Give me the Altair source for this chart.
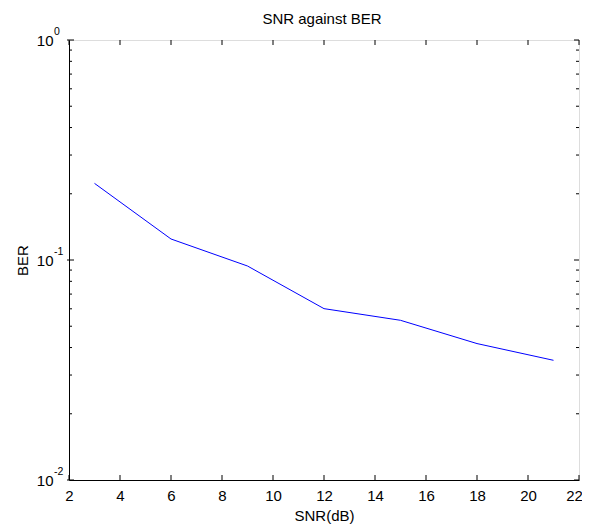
import altair as alt
import pandas as pd

snr = [3, 6, 9, 12, 15, 18, 21]
ber = [0.223, 0.1246, 0.0939, 0.0601, 0.0532, 0.0417, 0.0350]

x_ticks = [2, 4, 6, 8, 10, 12, 14, 16, 18, 20, 22]
y_major = [1.0, 0.1, 0.01]
y_exponents = ["0", "-1", "-2"]
y_minor = [0.02, 0.03, 0.04, 0.05, 0.06, 0.07, 0.08, 0.09,
           0.2, 0.3, 0.4, 0.5, 0.6, 0.7, 0.8, 0.9]
title_text = ["SNR against BER"]

W, H = 510, 440
FONT = "Liberation Sans"
FS = 15

xs = alt.Scale(domain=[2, 22], nice=False, zero=False)
ys = alt.Scale(type="log", domain=[0.01, 1], nice=False)

line_df = pd.DataFrame({"snr": snr, "ber": ber})
xt_df = pd.DataFrame({"v": x_ticks})
ymaj_df = pd.DataFrame({"v": y_major, "e": y_exponents, "base": ["10"] * 3})
ymin_df = pd.DataFrame({"v": y_minor})
title_df = pd.DataFrame({"t": title_text})

line = alt.Chart(line_df).mark_line(color="#0000FF", strokeWidth=1).encode(
    x=alt.X("snr:Q", scale=xs,
            axis=alt.Axis(values=x_ticks, ticks=False, grid=False, domainColor="black",
                          labelColor="black", labelFontSize=FS, labelFont=FONT,
                          labelPadding=8, title="SNR(dB)", titleFont=FONT,
                          titleFontSize=FS, titleFontWeight="normal", titleColor="black",
                          titlePadding=5, labelFlush=False,
                          labelOffset={"condition": {"test": "datum.value == 22", "value": -5},
                                       "value": 0})),
    y=alt.Y("ber:Q", scale=ys,
            axis=alt.Axis(labels=False, ticks=False, grid=False, domainColor="black",
                          title="BER", titleFont=FONT, titleFontSize=FS,
                          titleFontWeight="normal", titleColor="black", titlePadding=39)),
)

xb = alt.Chart(xt_df).mark_rule(color="black", strokeWidth=1).encode(
    x=alt.X("v:Q", scale=xs), y=alt.value(H), y2=alt.value(H - 5))
xt = alt.Chart(xt_df).mark_rule(color="black", strokeWidth=1).encode(
    x=alt.X("v:Q", scale=xs), y=alt.value(0), y2=alt.value(5))

ylm = alt.Chart(ymaj_df).mark_rule(color="black", strokeWidth=1).encode(
    y=alt.Y("v:Q", scale=ys), x=alt.value(-2), x2=alt.value(5))
yrm = alt.Chart(ymaj_df).mark_rule(color="black", strokeWidth=1).encode(
    y=alt.Y("v:Q", scale=ys), x=alt.value(W), x2=alt.value(W - 5))
yln = alt.Chart(ymin_df).mark_rule(color="black", strokeWidth=1).encode(
    y=alt.Y("v:Q", scale=ys), x=alt.value(0), x2=alt.value(3))
yrn = alt.Chart(ymin_df).mark_rule(color="black", strokeWidth=1).encode(
    y=alt.Y("v:Q", scale=ys), x=alt.value(W), x2=alt.value(W - 3))

base_lbl = alt.Chart(ymaj_df).mark_text(align="right", baseline="middle", fontSize=FS,
                                        font=FONT, color="black", dy=1).encode(
    y=alt.Y("v:Q", scale=ys), x=alt.value(-15.5), text="base:N")
exp_lbl = alt.Chart(ymaj_df).mark_text(align="left", baseline="middle", fontSize=10.5,
                                       font=FONT, color="black", dy=-8).encode(
    y=alt.Y("v:Q", scale=ys), x=alt.value(-15), text="e:N")

title = alt.Chart(title_df).mark_text(align="center", baseline="alphabetic", fontSize=FS,
                                      font=FONT, color="black").encode(
    x=alt.value(W / 2 - 2), y=alt.value(-16), text="t:N")

chart = alt.layer(line, xb, xt, ylm, yrm, yln, yrn, base_lbl, exp_lbl, title).properties(
    width=W, height=H,
    autosize=alt.AutoSizeParams(type="none"),
    padding={"left": 61, "top": 32, "right": 3, "bottom": 44},
).configure_view(stroke="black", strokeWidth=1).configure(background="white")

chart.save("out.html", embed_options={"renderer": "svg", "actions": False})
